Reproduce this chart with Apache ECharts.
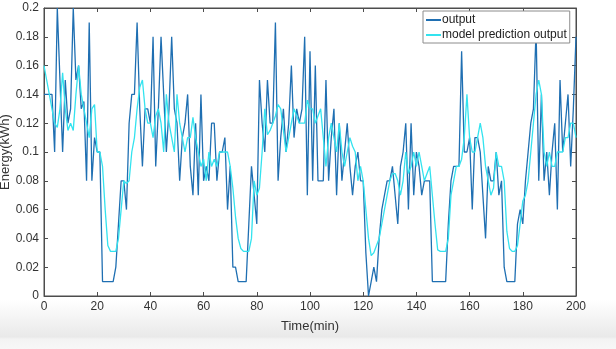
<!DOCTYPE html>
<html>
<head>
<meta charset="utf-8">
<script src="https://cdn.jsdelivr.net/npm/echarts@6/dist/echarts.min.js"></script>
<style>
  html, body { margin: 0; padding: 0; background: #fff; }
  #chart { width: 616px; height: 349px; }
</style>
</head>
<body>
<div id="chart"></div>
<script>
// values, one sample per minute (t = 0..200)
const output = [
  0.14,0.14,0.14,0.14,0.10,0.20,0.15,0.10,0.15,0.12,
  0.13,0.20,0.15,0.16,0.13,0.135,0.08,0.19,0.08,0.11,
  0.10,0.10,0.01,0.01,0.01,0.01,0.01,0.02,0.05,0.08,
  0.08,0.06,0.12,0.14,0.14,0.19,0.13,0.09,0.13,0.13,
  0.12,0.18,0.09,0.13,0.18,0.14,0.10,0.13,0.18,0.13,
  0.12,0.08,0.11,0.12,0.14,0.09,0.07,0.12,0.07,0.14,
  0.08,0.09,0.08,0.12,0.12,0.08,0.10,0.10,0.11,0.06,
  0.09,0.02,0.02,0.01,0.01,0.01,0.01,0.05,0.09,0.07,
  0.05,0.15,0.12,0.10,0.15,0.12,0.12,0.19,0.08,0.11,
  0.13,0.10,0.12,0.16,0.11,0.13,0.12,0.13,0.18,0.07,
  0.17,0.08,0.16,0.08,0.08,0.08,0.15,0.08,0.11,0.13,
  0.07,0.12,0.08,0.10,0.12,0.09,0.07,0.09,0.10,0.08,
  0.08,0.03,0.00,0.01,0.02,0.01,0.04,0.06,0.07,0.08,
  0.08,0.09,0.07,0.05,0.09,0.10,0.12,0.06,0.12,0.07,
  0.10,0.09,0.07,0.08,0.08,0.08,0.01,0.01,0.01,0.01,
  0.01,0.01,0.05,0.08,0.09,0.09,0.09,0.17,0.10,0.10,
  0.11,0.06,0.11,0.11,0.10,0.07,0.04,0.09,0.08,0.08,
  0.10,0.07,0.08,0.02,0.01,0.01,0.01,0.01,0.05,0.06,
  0.05,0.08,0.10,0.12,0.13,0.185,0.08,0.14,0.08,0.10,
  0.07,0.10,0.12,0.06,0.15,0.10,0.12,0.14,0.09,0.13,
  0.18
];
const prediction = [
  0.16,0.15,0.14,0.13,0.12,0.117,0.13,0.155,0.13,0.115,
  0.12,0.115,0.14,0.16,0.14,0.13,0.12,0.11,0.13,0.133,
  0.10,0.10,0.09,0.06,0.035,0.031,0.031,0.031,0.04,0.06,
  0.08,0.078,0.08,0.10,0.11,0.13,0.145,0.15,0.13,0.12,
  0.12,0.11,0.125,0.13,0.12,0.10,0.14,0.12,0.11,0.10,
  0.14,0.12,0.11,0.10,0.11,0.11,0.124,0.11,0.10,0.09,
  0.095,0.08,0.10,0.09,0.095,0.09,0.10,0.10,0.10,0.10,
  0.09,0.075,0.055,0.04,0.033,0.031,0.031,0.031,0.04,0.08,
  0.07,0.075,0.10,0.13,0.112,0.115,0.12,0.125,0.133,0.13,
  0.115,0.10,0.11,0.12,0.13,0.125,0.12,0.12,0.12,0.136,
  0.13,0.13,0.12,0.125,0.13,0.11,0.09,0.11,0.12,0.11,
  0.10,0.12,0.10,0.09,0.10,0.11,0.104,0.10,0.08,0.09,
  0.08,0.06,0.04,0.028,0.03,0.035,0.04,0.05,0.06,0.07,
  0.08,0.085,0.085,0.08,0.07,0.08,0.10,0.085,0.09,0.10,
  0.09,0.10,0.09,0.08,0.085,0.09,0.07,0.05,0.032,0.031,
  0.031,0.031,0.04,0.07,0.08,0.09,0.09,0.095,0.11,0.14,
  0.11,0.10,0.10,0.11,0.12,0.11,0.09,0.08,0.07,0.075,
  0.10,0.09,0.09,0.08,0.045,0.033,0.031,0.031,0.035,0.05,
  0.066,0.07,0.08,0.10,0.12,0.14,0.15,0.14,0.10,0.09,
  0.10,0.09,0.09,0.10,0.10,0.10,0.11,0.11,0.12,0.12,
  0.11
];
const seriesNames = ['output', 'model prediction output'];
const yTicks = ['0','0.02','0.04','0.06','0.08','0.1','0.12','0.14','0.16','0.18','0.2'];

const font = '"Liberation Sans", Arial, sans-serif';
const axisGray = '#4d4d4d';

// sample index is the time in minutes
const toPairs = arr => arr.map((v, i) => [i, v]);

const chart = echarts.init(document.getElementById('chart'), null, { renderer: 'canvas' });

// matlab style box: ticks point into the plot, axes stay on their own edge
function ticks() {
  return { show: true, inside: true, length: 4, lineStyle: { color: axisGray, width: 1 } };
}
function line() {
  return { show: true, onZero: false, lineStyle: { color: axisGray, width: 1 } };
}

chart.setOption({
  animation: false,
  backgroundColor: '#fff',
  textStyle: { fontFamily: font },
  // grey strip of the screenshot at the bottom
  graphic: [{
    type: 'rect', z: -10, silent: true,
    shape: { x: 0, y: 300, width: 616, height: 49 },
    style: {
      fill: new echarts.graphic.LinearGradient(0, 0, 0, 1, [
        { offset: 0, color: '#ffffff' },
        { offset: 0.75, color: '#e9e9e9' },
        { offset: 0.8, color: '#f3f3f3' },
        { offset: 1, color: '#f7f7f7' }
      ])
    }
  }],
  grid: {
    left: 44, right: 40, top: 8, bottom: 53,
    outerBoundsMode: 'none',
    show: true, borderColor: axisGray, borderWidth: 1, backgroundColor: '#fff'
  },
  legend: {
    data: seriesNames,
    orient: 'vertical',
    left: 423, top: 11,
    itemWidth: 15, itemHeight: 2, itemGap: 3,
    icon: 'rect',
    padding: [3, 3, 2, 3],
    backgroundColor: '#fff',
    borderColor: '#8c8c8c', borderWidth: 1,
    textStyle: { fontFamily: font, fontSize: 12, color: '#222', padding: [0, 0, 0, -4] }
  },
  xAxis: [{
    type: 'value', min: 0, max: 200, interval: 20,
    name: 'Time(min)', nameLocation: 'middle', nameGap: 24, nameMoveOverlap: false,
    nameTextStyle: { fontFamily: font, fontSize: 13, color: '#333' },
    axisLine: line(),
    axisTick: ticks(),
    axisLabel: { fontFamily: font, fontSize: 12, color: '#333', margin: 5 },
    splitLine: { show: false }
  }, {
    type: 'value', min: 0, max: 200, interval: 20, position: 'top',
    axisLine: line(),
    axisTick: ticks(), axisLabel: { show: false }, splitLine: { show: false }
  }],
  yAxis: [{
    type: 'value', min: 0, max: 0.2, interval: 0.02,
    name: 'Energy(kWh)', nameLocation: 'middle', nameGap: 32, nameMoveOverlap: false,
    nameTextStyle: { fontFamily: font, fontSize: 13, color: '#333' },
    axisLine: line(),
    axisTick: ticks(),
    axisLabel: {
      fontFamily: font, fontSize: 12, color: '#333', margin: 5,
      formatter: (v) => yTicks[Math.round(v / 0.02)]
    },
    splitLine: { show: false }
  }, {
    type: 'value', min: 0, max: 0.2, interval: 0.02, position: 'right',
    axisLine: line(),
    axisTick: ticks(), axisLabel: { show: false }, splitLine: { show: false }
  }],
  series: [{
    name: seriesNames[0],
    type: 'line',
    data: toPairs(output),
    showSymbol: false, symbol: 'none',
    color: '#1f6fb2',
    lineStyle: { width: 1.3, color: '#1f6fb2' }
  }, {
    name: seriesNames[1],
    type: 'line',
    data: toPairs(prediction),
    showSymbol: false, symbol: 'none',
    color: '#33e3ef',
    lineStyle: { width: 1.3, color: '#33e3ef' }
  }]
});
</script>
</body>
</html>
